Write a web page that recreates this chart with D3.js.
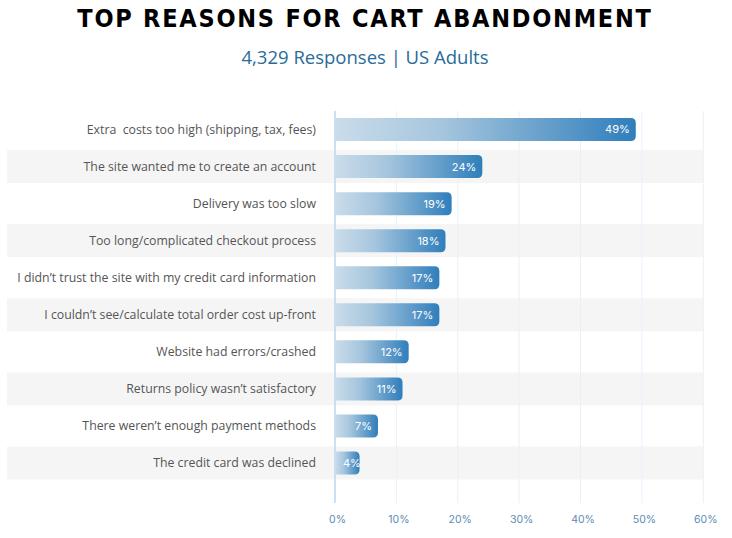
<!DOCTYPE html>
<html><head><meta charset="utf-8">
<script src="https://cdn.jsdelivr.net/npm/d3@7"></script>
<style>
body{margin:0;background:#fff;}
svg{display:block;}
</style></head>
<body>
<script>
const categories = [
  "Extra  costs too high (shipping, tax, fees)",
  "The site wanted me to create an account",
  "Delivery was too slow",
  "Too long/complicated checkout process",
  "I didn\u2019t trust the site with my credit card information",
  "I couldn\u2019t see/calculate total order cost up-front",
  "Website had errors/crashed",
  "Returns policy wasn\u2019t satisfactory",
  "There weren\u2019t enough payment methods",
  "The credit card was declined"
];
const values = [49, 24, 19, 18, 17, 17, 12, 11, 7, 4];
const tickValues = [0, 10, 20, 30, 40, 50, 60];
const titleText = "TOP REASONS FOR CART ABANDONMENT";
const subtitleText = "4,329 Responses | US Adults";

const W = 732, H = 538;
const svg = d3.select("body").append("svg").attr("width", W).attr("height", H);

const x = d3.scaleLinear().domain([0, 60]).range([335, 703.3]);
const y = d3.scaleBand().domain(categories).range([111, 481.5]).paddingInner(0).paddingOuter(0);
const step = y.step();
const barH = 23;

const defs = svg.append("defs");
const grad = defs.append("linearGradient").attr("id", "g").attr("x1", "0%").attr("x2", "100%").attr("y1", "0").attr("y2", "0");
grad.append("stop").attr("offset", "0%").attr("stop-color", "#cadcea");
grad.append("stop").attr("offset", "35%").attr("stop-color", "#a6c6de");
grad.append("stop").attr("offset", "100%").attr("stop-color", "#2f7ebb");

// title
svg.append("text").attr("x", W/2 - 1).attr("y", 27).attr("text-anchor", "middle")
  .attr("font-family", "'DejaVu Sans Condensed', 'DejaVu Sans', sans-serif").attr("font-weight", "bold")
  .attr("font-size", 25).attr("letter-spacing", 1.75).attr("fill", "#000").text(titleText);
svg.append("text").attr("x", W/2 - 1).attr("y", 64).attr("text-anchor", "middle")
  .attr("font-family", "'Open Sans', sans-serif").attr("font-size", 18.5)
  .attr("fill", "#2a6b9a").text(subtitleText);

// row bands
svg.append("g").selectAll("rect").data(categories.filter((d, i) => i % 2 === 1)).join("rect")
  .attr("x", 7).attr("width", 703.3 - 7)
  .attr("y", d => y(d) + step/2 - 16.5).attr("height", 33)
  .attr("fill", "#f5f5f5");

// gridlines
svg.append("g").selectAll("line").data(tickValues).join("line")
  .attr("x1", d => x(d)).attr("x2", d => x(d))
  .attr("y1", 111).attr("y2", 503)
  .attr("stroke", d => d === 0 ? "#bcd6ee" : "#e8f1fa").attr("stroke-width", d => d === 0 ? 1.5 : 1);

// axis
const axis = d3.axisBottom(x).tickValues(tickValues).tickFormat(d => d + "%").tickSize(0).tickPadding(0);
const ag = svg.append("g").attr("transform", "translate(0,523)").call(axis);
ag.select(".domain").remove();
ag.selectAll("text").attr("font-family", "Inter, 'Open Sans', sans-serif").attr("font-size", 10.5)
  .attr("fill", "#5b8cb3").attr("dy", 0).attr("dx", 2);

// category labels
svg.append("g").selectAll("text").data(categories).join("text")
  .attr("x", 316).attr("y", d => y(d) + step/2).attr("dy", "0.35em")
  .attr("text-anchor", "end").attr("font-family", "'Open Sans', sans-serif")
  .attr("font-size", 12.3).attr("fill", "#555").style("white-space", "pre").text(d => d);

// bars
const r = 5;
function barPath(x0, x1, yc) {
  const t = yc - barH/2, b = yc + barH/2;
  return `M${x0},${t}H${x1 - r}Q${x1},${t} ${x1},${t + r}V${b - r}Q${x1},${b} ${x1 - r},${b}H${x0}Z`;
}
const bars = svg.append("g");
bars.selectAll("path").data(values).join("path")
  .attr("d", (v, i) => barPath(x(0), x(v), y(categories[i]) + step/2))
  .attr("fill", "url(#g)");
bars.selectAll("text").data(values).join("text")
  .attr("y", (v, i) => y(categories[i]) + step/2).attr("dy", "0.36em")
  .attr("text-anchor", "end").attr("font-family", "Inter, 'Open Sans', sans-serif")
  .attr("font-size", 11).attr("fill", "#fff").text(v => v + "%")
  .attr("x", function(v) {
    const w = this.getComputedTextLength();
    return Math.max(x(v) - 6, x(0) + 8 + w);
  });
</script>
</body></html>
